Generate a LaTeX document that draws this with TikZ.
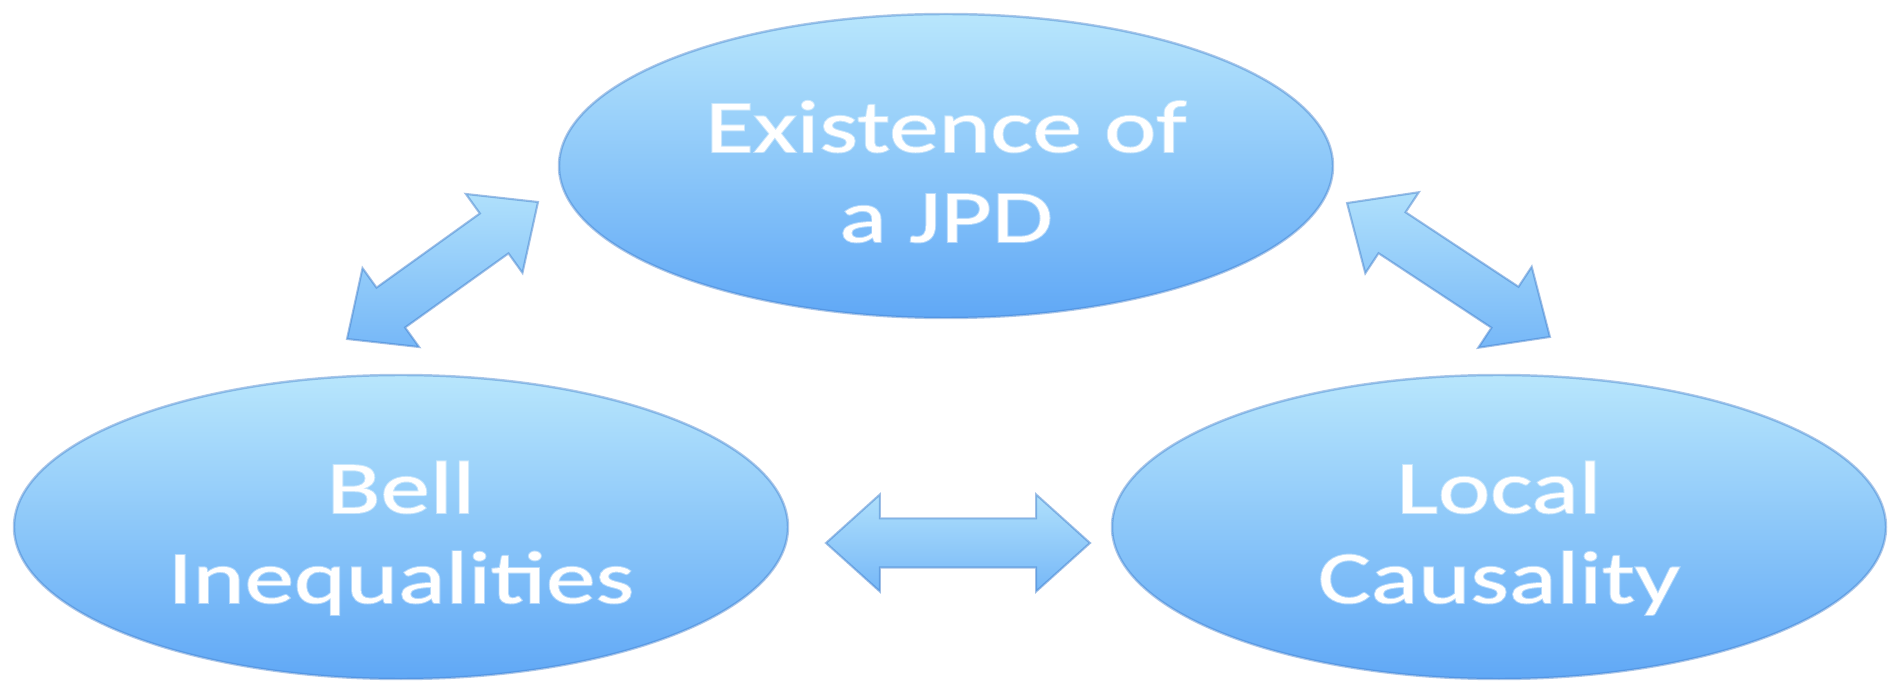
\documentclass[tikz,border=0pt]{standalone}
\usepackage{fontspec}
\newfontfamily\bubble[FakeStretch=1.33,FakeBold=2.6]{Carlito}
\usetikzlibrary{calc,positioning,shapes.geometric,shapes.arrows}
\definecolor{sky}{RGB}{184,230,252}
\definecolor{deep}{RGB}{96,168,246}
\definecolor{rim}{RGB}{70,130,205}
\newcommand\lines[1]{\raisebox{-0.13cm}[\height][\depth]{\begin{tabular}{@{}c@{}}#1\end{tabular}}}

\begin{document}
\begin{tikzpicture}[
    blob/.style={ellipse, draw=rim, draw opacity=0.45, line width=0.7pt, top color=sky, bottom color=deep,
      minimum width=7.74cm, minimum height=3.04cm, inner sep=0pt, text=white,
      font=\bubble\fontsize{21.2}{25.6}\selectfont},
    darr/.style={double arrow, draw=rim, draw opacity=0.5, line width=0.6pt, top color=sky!90!deep, bottom color=deep!75!sky,
      inner xsep=0pt, inner ysep=0.235cm, double arrow head extend=0.24cm, double arrow tip angle=84}]
  \useasboundingbox (0,0) rectangle (18.99,6.81);
  % the three statements
  \node[blob] (jpd) at (9.46,5.15) {\lines{Existence of\\a JPD}};
  \node[blob] (bell) at (4.01,1.54) {\lines{Bell\\Inequalities}};
  \node[blob] (loc) at (14.99,1.54) {\lines{Local\\Causality}};
  % tips of the block arrows
  \coordinate (l1) at (3.47,3.42); \coordinate (l2) at (5.38,4.79);
  \coordinate (r1) at (13.47,4.78); \coordinate (r2) at (15.50,3.44);
  \coordinate (h1) at (8.26,1.38); \coordinate (h2) at (10.90,1.38);
  \foreach \s/\t in {l1/l2,r1/r2,h1/h2}
    \path let \p1=($(\t)-(\s)$), \n1={atan2(\y1,\x1)}, \n2={veclen(\x1,\y1)} in
      node[darr, rotate=\n1, minimum height=\n2] (\s\t) at ($(\s)!0.5!(\t)$) {};
\end{tikzpicture}
\end{document}
